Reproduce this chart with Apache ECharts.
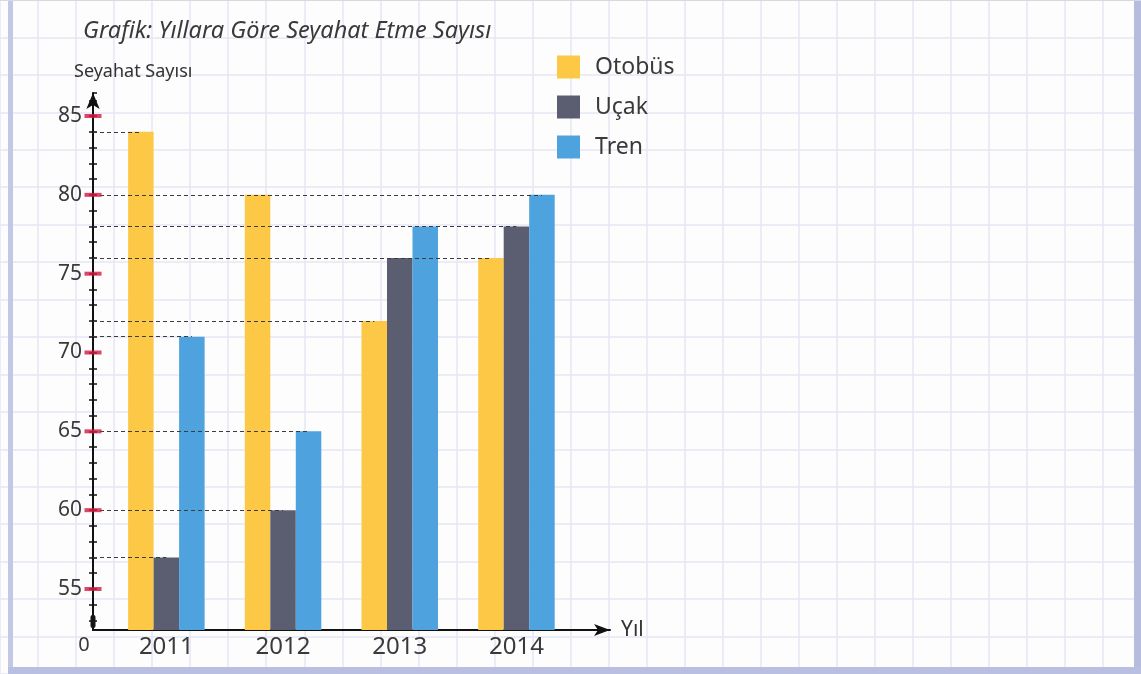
<!DOCTYPE html>
<html>
<head>
<meta charset="utf-8">
<title>Yıllara Göre Seyahat Etme Sayısı</title>
<script src="https://cdn.jsdelivr.net/npm/echarts@6/dist/echarts.min.js"></script>
<style>
  html, body { margin: 0; padding: 0; background: #fdfdfe; }
  #chart { width: 1141px; height: 674px; }
</style>
</head>
<body>
<div id="chart"></div>
<script>
// Data
const years = ['2011', '2012', '2013', '2014'];
const otobus = [84, 80, 72, 76];
const ucak = [57, 60, 76, 78];
const tren = [71, 65, 78, 80];
const yTickLabels = [55, 60, 65, 70, 75, 80, 85];
const seriesNames = ['Otobüs', 'Uçak', 'Tren'];
const seriesColors = ['#fcc846', '#5b5e70', '#4ea2de'];

// Layout
const FONT = '"Noto Sans", "Open Sans", sans-serif';
const AX_LEFT = 93, AX_TOP = 93, AX_RIGHT = 610, AX_BOTTOM = 630;
const Y_MIN = 52.4, Y_MAX = 86.46;
const BAND = 116.7;              // width of one year group in px
const FIRST_CENTER = 166.35;     // centre of the 2011 group in px
const BAR_W = 25.5;
const X_MIN = (AX_LEFT - FIRST_CENTER) / BAND;
const X_MAX = (AX_RIGHT - FIRST_CENTER) / BAND;
const CELL_W = 38.8, CELL_H = 39.5;

const allSeries = [otobus, ucak, tren];

// dashed guide from the value axis to each bar's top
const guideLines = [];
allSeries.forEach((vals, s) => {
  vals.forEach((v, i) => {
    const xEnd = i + (s - 1) * BAR_W / BAND;
    guideLines.push([{ coord: [X_MIN, v] }, { coord: [xEnd, v] }]);
  });
});

const chart = echarts.init(document.getElementById('chart'), null, { renderer: 'canvas' });

const hiddenAxis = {
  axisLine: { show: false }, axisTick: { show: false },
  axisLabel: { show: false }, splitLine: { show: false }
};

const option = {
  backgroundColor: '#fdfdfe',
  animation: false,
  textStyle: { fontFamily: FONT },
  grid: [
    // squared paper
    { left: -4.2, top: -4.5, width: CELL_W * 30, height: CELL_H * 18 },
    // axes
    { left: AX_LEFT, top: AX_TOP, width: AX_RIGHT - AX_LEFT, height: AX_BOTTOM - AX_TOP },
    // bars
    { left: FIRST_CENTER - BAND / 2, top: AX_TOP, width: BAND * 4, height: AX_BOTTOM - AX_TOP }
  ],
  xAxis: [
    {
      gridIndex: 0, type: 'value', min: 0, max: 30, interval: 1,
      axisLine: { show: false }, axisTick: { show: false }, axisLabel: { show: false },
      splitLine: { show: true, lineStyle: { color: '#e6e6f4', width: 1.5 } }
    },
    {
      gridIndex: 1, type: 'value', min: X_MIN, max: X_MAX,
      axisLine: {
        show: true, onZero: false,
        lineStyle: { color: '#111', width: 2 },
        symbol: ['none', 'arrow'], symbolSize: [9, 16]
      },
      axisTick: { show: false }, axisLabel: { show: false }, splitLine: { show: false },
      name: 'Yıl', nameLocation: 'end', nameGap: 11,
      nameTextStyle: { fontSize: 21, color: '#333', fontFamily: FONT, verticalAlign: 'middle' }
    },
    {
      gridIndex: 2, type: 'category', data: years,
      axisLine: { show: false }, axisTick: { show: false },
      axisLabel: { fontSize: 24, color: '#3a3a3a', margin: 5, fontFamily: FONT },
      splitLine: { show: false }
    }
  ],
  yAxis: [
    {
      gridIndex: 0, type: 'value', min: 0, max: 18, interval: 1,
      axisLine: { show: false }, axisTick: { show: false }, axisLabel: { show: false },
      splitLine: { show: true, lineStyle: { color: '#e6e6f4', width: 1.5 } }
    },
    {
      gridIndex: 1, type: 'value', position: 'left',
      min: Y_MIN, max: Y_MAX, minInterval: 1, maxInterval: 1,
      axisLine: {
        show: true, onZero: false,
        lineStyle: { color: '#111', width: 2 },
        symbol: ['none', 'arrow'], symbolSize: [10, 16]
      },
      axisTick: { show: true, length: 4, lineStyle: { color: '#111', width: 1.5 } },
      axisLabel: {
        showMinLabel: false, showMaxLabel: false,
        fontSize: 21, color: '#3a3a3a', margin: 11, fontFamily: FONT,
        formatter: v => (yTickLabels.indexOf(Math.round(v * 100) / 100) >= 0 ? String(v) : '')
      },
      splitLine: { show: false }
    },
    {
      gridIndex: 1, type: 'value', position: 'left',
      min: Y_MIN, max: Y_MAX, minInterval: 1, maxInterval: 1,
      axisLine: { show: false, onZero: false },
      axisTick: { show: true, inside: true, length: 4, lineStyle: { color: '#111', width: 1.5 } },
      axisLabel: { show: false }, splitLine: { show: false }
    },
    Object.assign({ gridIndex: 2, type: 'value', min: Y_MIN, max: Y_MAX }, hiddenAxis)
  ],
  legend: {
    data: seriesNames,
    orient: 'vertical', left: 557, top: 55.5, padding: 0,
    itemWidth: 23, itemHeight: 23, itemGap: 17,
    icon: 'rect', selectedMode: false,
    textStyle: { fontSize: 23, color: '#3a3a3a', fontFamily: FONT, padding: [0, 0, 0, 10] }
  },
  series: [
    // dashed guides
    {
      type: 'scatter', xAxisIndex: 1, yAxisIndex: 1, data: [], z: 1, silent: true,
      markLine: {
        symbol: 'none', silent: true, animation: false,
        label: { show: false },
        lineStyle: { type: [4, 3], color: '#3c3c3c', width: 1 },
        data: guideLines
      }
    },
    // red marks at labelled values
    {
      type: 'scatter', xAxisIndex: 1, yAxisIndex: 1, z: 6, silent: true, clip: false,
      symbol: 'rect', symbolSize: [17, 4],
      itemStyle: { color: '#d4173f' },
      data: yTickLabels.map(v => [X_MIN, v])
    },
    ...seriesNames.map((name, s) => ({
      name, type: 'bar', xAxisIndex: 2, yAxisIndex: 3, z: 3,
      barWidth: BAR_W, barGap: '0%',
      itemStyle: { color: seriesColors[s] },
      data: allSeries[s]
    }))
  ],
  graphic: [
    {
      type: 'text', x: 83, y: 31, z: 10,
      style: {
        text: 'Grafik: Yıllara Göre Seyahat Etme Sayısı',
        font: 'italic 23.5px "Noto Sans", sans-serif', fill: '#3a3a3a',
        verticalAlign: 'middle', textVerticalAlign: 'middle'
      }
    },
    {
      type: 'text', x: 74, y: 72, z: 10,
      style: {
        text: 'Seyahat Sayısı', font: '18px "Noto Sans", sans-serif', fill: '#333',
        verticalAlign: 'middle', textVerticalAlign: 'middle'
      }
    },
    {
      type: 'text', x: 84, y: 645, z: 10,
      style: {
        text: '0', font: '20px "Noto Sans", sans-serif', fill: '#3a3a3a',
        align: 'center', textAlign: 'center', verticalAlign: 'middle', textVerticalAlign: 'middle'
      }
    },
    // break mark at the foot of the value axis
    { type: 'rect', z: 10, shape: { x: 90.5, y: 615, width: 5, height: 13, r: 2 }, style: { fill: '#151515' } },
    // page frame
    { type: 'rect', z: 20, shape: { x: 8, y: 0, width: 5, height: 674 }, style: { fill: '#c3c8e6' } },
    { type: 'rect', z: 20, shape: { x: 1134, y: 0, width: 7, height: 674 }, style: { fill: '#b6bcde' } },
    { type: 'rect', z: 20, shape: { x: 8, y: 667, width: 1133, height: 7 }, style: { fill: '#b9bfe0' } },
    { type: 'rect', z: 20, shape: { x: 0, y: 0, width: 1141, height: 1 }, style: { fill: '#d8d8e0' } }
  ]
};

chart.setOption(option);
</script>
</body>
</html>
